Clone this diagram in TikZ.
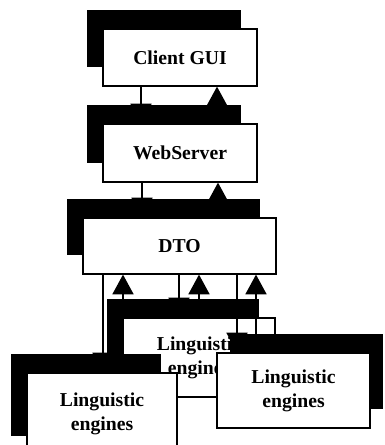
\documentclass[tikz,border=0pt]{standalone}
\usepackage{fontspec}
\setmainfont{Liberation Serif}
\usetikzlibrary{arrows.meta,shadows}

\begin{document}
\begin{tikzpicture}[
    box/.style={draw, line width=0.9pt, fill=white, align=center, inner sep=0pt,
        font=\fontsize{14}{17}\selectfont\bfseries,
        drop shadow={shadow xshift=#1, shadow yshift=0.475cm, fill=black, opacity=1}},
    box/.default=-0.4cm,
    flow/.style={line width=0.9pt, -{Triangle[length=14pt,width=15pt]}}
]
    \clip (0,0) rectangle (9.6,-11.125);

    % Draw the client, server and DTO boxes
    \node[box, minimum width=3.85cm, minimum height=1.425cm] (gui) at (4.5,-1.4375) {Client GUI};
    \node[box, minimum width=3.85cm, minimum height=1.45cm] (web) at (4.5,-3.825) {WebServer};
    \node[box, minimum width=4.825cm, minimum height=1.4cm] (dto) at (4.4875,-6.15) {DTO};

    % Draw the engine boxes
    \node[box, minimum width=3.8cm, minimum height=1.975cm] (eng2) at (4.975,-8.9375) {Linguistic\\engines};
    \node[box, minimum width=3.75cm, minimum height=2.05cm] (eng1) at (2.55,-10.35) {Linguistic\\engines};
    \node[box=0.325cm, minimum width=3.825cm, minimum height=1.875cm] (eng3) at (7.3375,-9.7625) {Linguistic\\engines};

    % Draw requests and replies between the upper boxes
    \draw[flow] (gui.south -| 3.525,0) -- (web.north -| 3.525,0);
    \draw[flow] (web.north -| 5.425,0) -- (gui.south -| 5.425,0);
    \draw[flow] (web.south -| 3.55,0) -- (dto.north -| 3.55,0);
    \draw[flow] (dto.north -| 5.45,0) -- (web.south -| 5.45,0);

    % Draw requests and replies between DTO and the engines
    \draw[flow] (dto.south -| 2.575,0) -- (eng1.north -| 2.575,0);
    \draw[flow] (eng1.north -| 3.075,0) -- (dto.south -| 3.075,0);
    \draw[flow] (dto.south -| 4.475,0) -- (eng2.north -| 4.475,0);
    \draw[flow] (eng2.north -| 4.975,0) -- (dto.south -| 4.975,0);
    \draw[flow] (dto.south -| 5.925,0) -- (eng3.north -| 5.925,0);
    \draw[flow] (eng3.north -| 6.4,0) -- (dto.south -| 6.4,0);
\end{tikzpicture}
\end{document}
